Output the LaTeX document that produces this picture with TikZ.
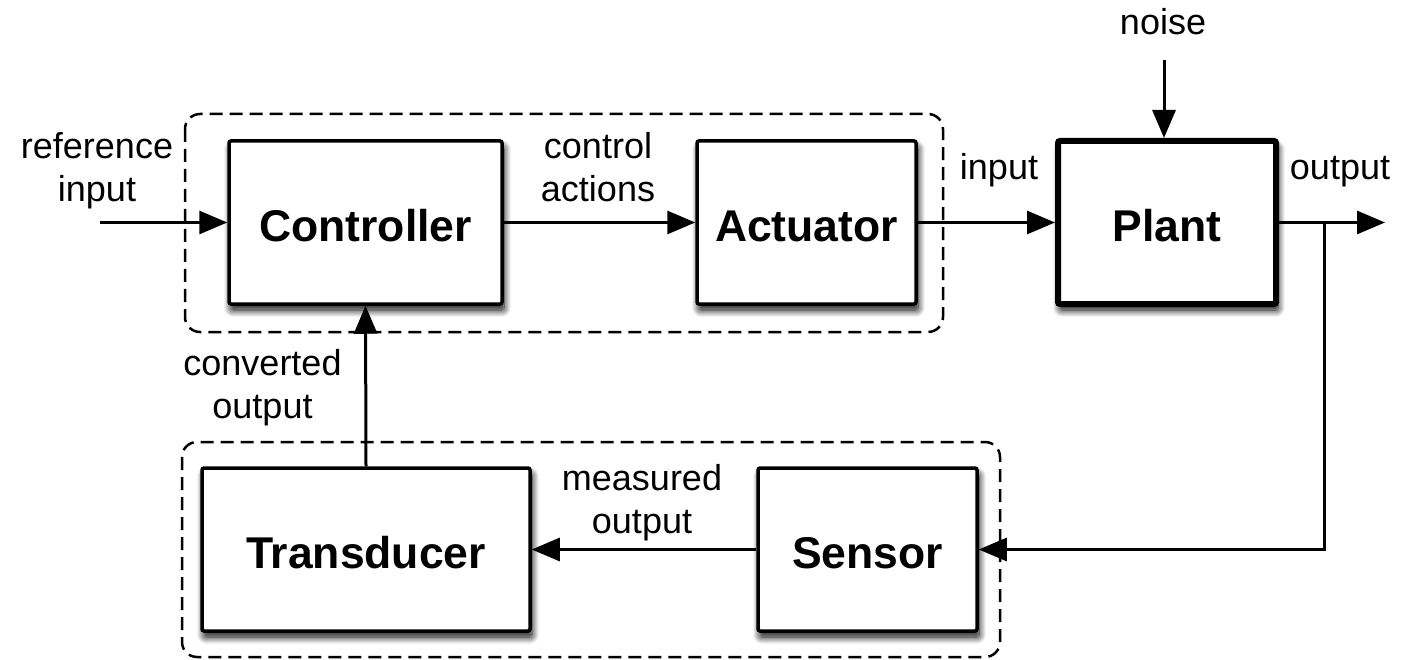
\documentclass[tikz,border=0pt]{standalone}
\usepackage{fontspec}
\setmainfont{Liberation Sans}
\usetikzlibrary{arrows.meta,shadows.blur}
\begin{document}
\begin{tikzpicture}[x=1pt,y=-1pt,
  blockbox/.style={draw, line width=3.5pt, fill=white, rounded corners=2pt,
    minimum height=163pt, inner sep=0pt, text height=38pt, text depth=0pt,
    font=\fontsize{44.5}{50}\selectfont\bfseries,
    blur shadow={shadow xshift=2pt, shadow yshift=-9pt, shadow blur radius=14pt, shadow blur steps=12, shadow opacity=100},
    blur shadow={shadow xshift=2pt, shadow yshift=-6pt, shadow blur radius=7pt, shadow blur steps=8, shadow opacity=60}},
  plantbox/.style={blockbox, line width=6pt},
  grp/.style={draw, line width=2.5pt, dash pattern=on 13pt off 7pt, rounded corners=15pt},
  lbl/.style={inner sep=0pt, align=center, font=\fontsize{36}{43}\selectfont},
  arr/.style={line width=3pt, -{Triangle[length=28pt,width=23pt]}},
  ln/.style={line width=3pt}]
\useasboundingbox (0,0) rectangle (1421,660);
% groups
\draw[grp] (185,114) rectangle (943,332);
\draw[grp] (182,442) rectangle (1000,657);
% blocks
\node[blockbox, minimum width=273pt] (ctrl) at (365.5,222.5) {Controller};
\node[blockbox, minimum width=219pt] (act) at (806.5,222.5) {Actuator};
\node[plantbox, minimum width=218pt] (plant) at (1167,222.5) {Plant};
\node[blockbox, minimum width=328pt] (trans) at (366,549.5) {Transducer};
\node[blockbox, minimum width=219pt] (sens) at (867.5,549.5) {Sensor};
% coordinates
\coordinate (ref) at (100,222.5);
\coordinate (out) at (1385,222.5);
\coordinate (br) at (1324,222.5);
\coordinate (nz) at (1164,60);
% connectors
\draw[arr] (ref) -- (ctrl.west);
\draw[arr] (ctrl.east) -- (act.west);
\draw[arr] (act.east) -- (plant.west);
\draw[arr] (plant.east) -- (out);
\draw[arr] (br) |- (sens.east);
\draw[arr] (sens.west) -- (trans.east);
\draw[arr] (trans.north) -- (ctrl.south);
\draw[arr] (nz) -- (nz |- plant.north);
% labels
\node[lbl, anchor=north] (lref) at (97,132) {reference\\input};
\node[lbl, anchor=north] (lca) at (598,132) {control\\actions};
\node[lbl, anchor=north] (lco) at (262.5,349) {converted\\output};
\node[lbl, anchor=north] (lmo) at (642,464) {measured\\output};
\node[lbl, anchor=base] (lin) at (999,180) {input};
\node[lbl, anchor=base] (lout) at (1340,180) {output};
\node[lbl, anchor=base] (lnz) at (1163,35) {noise};
\end{tikzpicture}
\end{document}
